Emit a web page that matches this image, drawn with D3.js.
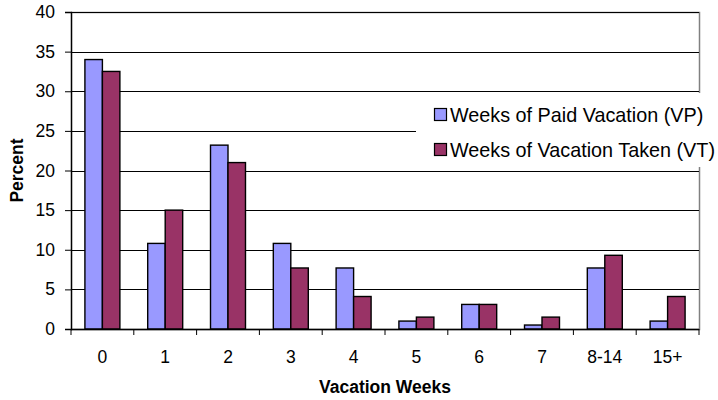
<!DOCTYPE html>
<html>
<head>
<meta charset="utf-8">
<script src="https://cdn.jsdelivr.net/npm/d3@7"></script>
<style>
  body { margin: 0; background: #fff; }
  text { font-family: "Liberation Sans", Arial, sans-serif; fill: #000; }
</style>
</head>
<body>
<div id="chart"></div>
<script>
// categories and values
const categories = ['0', '1', '2', '3', '4', '5', '6', '7', '8-14', '15+'];
const paidVacation = [34.0, 10.8, 23.2, 10.8, 7.7, 1.0, 3.1, 0.5, 7.7, 1.0];
const vacationTaken = [32.5, 15.0, 21.0, 7.7, 4.1, 1.5, 3.1, 1.5, 9.3, 4.1];
const seriesNames = ['Weeks of Paid Vacation (VP)', 'Weeks of Vacation Taken (VT)'];
const yTicks = [0, 5, 10, 15, 20, 25, 30, 35, 40];

const colors = ['#9999FF', '#993366'];

const W = 718, H = 400;
const margin = {top: 12, right: 19, bottom: 71, left: 71},
    width = W - margin.left - margin.right,
    height = H - margin.top - margin.bottom;

const data = categories.map((c, i) => ({cat: c, vals: [paidVacation[i], vacationTaken[i]]}));

const svg = d3.select('#chart').append('svg')
    .attr('width', W)
    .attr('height', H);

svg.append('rect').attr('width', W).attr('height', H).attr('fill', '#fff');

const g = svg.append('g')
    .attr('transform', `translate(${margin.left},${margin.top})`);

const x0 = d3.scaleBand()
    .domain(categories)
    .range([0, width])
    .paddingInner(0.443)
    .paddingOuter(0.2215);

const x1 = d3.scaleBand()
    .domain([0, 1])
    .range([0, x0.bandwidth()]);

const y = d3.scaleLinear()
    .domain([0, 40])
    .range([height, 0]);

// plot area border (grey)
g.append('rect')
    .attr('x', 0.5).attr('y', 0.5)
    .attr('width', width).attr('height', height)
    .attr('fill', 'none')
    .attr('stroke', '#808080')
    .attr('stroke-width', 1.5);

// gridlines
g.selectAll('.grid')
    .data(yTicks.filter(d => d > 0))
    .enter().append('line')
    .attr('class', 'grid')
    .attr('x1', 0).attr('x2', width)
    .attr('y1', d => Math.round(y(d)) + 0.5)
    .attr('y2', d => Math.round(y(d)) + 0.5)
    .attr('stroke', '#000')
    .attr('stroke-width', 1);

// bars
const groups = g.selectAll('.cat')
    .data(data)
    .enter().append('g')
    .attr('class', 'cat')
    .attr('transform', d => `translate(${x0(d.cat)},0)`);

groups.selectAll('rect')
    .data(d => d.vals.map((v, i) => ({v, i})))
    .enter().append('rect')
    .attr('x', d => x1(d.i))
    .attr('y', d => y(d.v))
    .attr('width', x1.bandwidth())
    .attr('height', d => height - y(d.v))
    .attr('fill', d => colors[d.i])
    .attr('stroke', '#000')
    .attr('stroke-width', 1.4);

// y axis
const yAxis = g.append('g')
    .call(d3.axisLeft(y).tickValues(yTicks).tickSize(6).tickPadding(10));
yAxis.select('.domain').attr('stroke', '#000').attr('stroke-width', 1.3);
yAxis.selectAll('.tick line').attr('stroke', '#000');
yAxis.selectAll('text')
    .style('font-size', '17.5px')
    .style('font-family', '"Liberation Sans", Arial, sans-serif');

// x axis: line, boundary ticks, centred labels
const xAxis = g.append('g').attr('transform', `translate(0,${height})`);
xAxis.append('line')
    .attr('x1', 0).attr('x2', width)
    .attr('y1', 0.5).attr('y2', 0.5)
    .attr('stroke', '#000').attr('stroke-width', 1.3);

const bounds = d3.range(categories.length + 1).map(i => x0.range()[0] + i * x0.step());
xAxis.selectAll('.btick')
    .data(bounds)
    .enter().append('line')
    .attr('x1', d => d).attr('x2', d => d)
    .attr('y1', 0).attr('y2', 6)
    .attr('stroke', '#000');

xAxis.selectAll('.xlabel')
    .data(categories)
    .enter().append('text')
    .attr('x', d => x0(d) + x0.bandwidth() / 2)
    .attr('y', 33.5)
    .attr('text-anchor', 'middle')
    .style('font-size', '17.5px')
    .text(d => d);

// axis titles
svg.append('text')
    .attr('x', margin.left + width / 2)
    .attr('y', 393)
    .attr('text-anchor', 'middle')
    .style('font-size', '17.5px')
    .style('font-weight', 'bold')
    .text('Vacation Weeks');

svg.append('text')
    .attr('transform', `translate(23,${margin.top + height / 2}) rotate(-90)`)
    .attr('text-anchor', 'middle')
    .style('font-size', '17.5px')
    .style('font-weight', 'bold')
    .text('Percent');

// legend
const legend = svg.append('g');
legend.append('rect')
    .attr('x', 416).attr('y', 93)
    .attr('width', W - 416).attr('height', 74)
    .attr('fill', '#fff');

const items = legend.selectAll('.item')
    .data(seriesNames)
    .enter().append('g')
    .attr('class', 'item')
    .attr('transform', (d, i) => `translate(434,${108 + i * 35})`);

items.append('rect')
    .attr('x', 0.5).attr('y', 0.5)
    .attr('width', 12).attr('height', 12)
    .attr('fill', (d, i) => colors[i])
    .attr('stroke', '#000')
    .attr('stroke-width', 1.2);

items.append('text')
    .attr('x', 16)
    .attr('y', 13.5)
    .style('font-size', '19.8px')
    .text(d => d);
</script>
</body>
</html>
